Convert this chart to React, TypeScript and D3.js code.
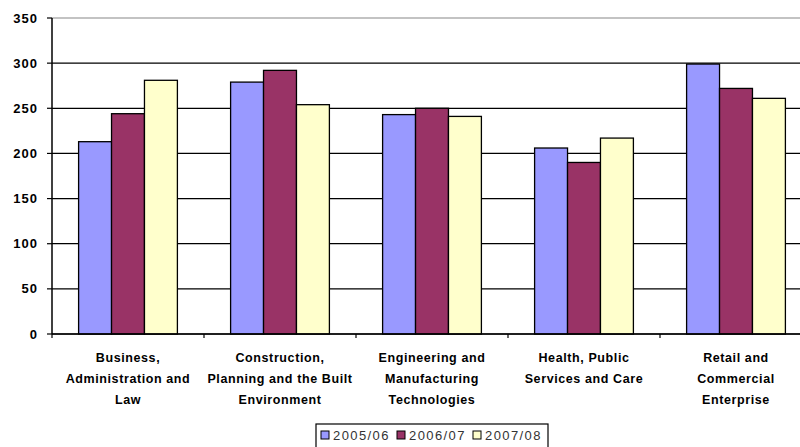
import React from "react";
import * as d3 from "d3";

const categories: string[][] = [
  ["Business,", "Administration and", "Law"],
  ["Construction,", "Planning and the Built", "Environment"],
  ["Engineering and", "Manufacturing", "Technologies"],
  ["Health, Public", "Services and Care"],
  ["Retail and", "Commercial", "Enterprise"],
];
const seriesNames = ["2005/06", "2006/07", "2007/08"];
const seriesColors = ["#9999FF", "#993366", "#FFFFCC"];
const values2005 = [213, 279, 243, 206, 299];
const values2006 = [244, 292, 250, 190, 272];
const values2007 = [281, 254, 241, 217, 261];
const yTicks = [0, 50, 100, 150, 200, 250, 300, 350];

const W = 800;
const H = 447;
const left = 52;
const right = 812;
const top = 18;
const bottom = 334;

export default function App() {
  const series = [values2005, values2006, values2007];
  const x = d3
    .scaleBand<number>()
    .domain(categories.map((_, i) => i))
    .range([left, right])
    .paddingInner(0)
    .paddingOuter(0);
  const y = d3.scaleLinear().domain([0, 350]).range([bottom, top]);
  const bw = x.bandwidth();
  const groupW = bw * 0.65;
  const inner = d3
    .scaleBand<number>()
    .domain([0, 1, 2])
    .range([0, groupW]);
  const font = "'Liberation Sans', Arial, sans-serif";

  const legendX = 316;
  const legendY = 424;
  const legendItemX = [321, 397, 473];

  return (
    <div style={{ position: "fixed", left: 0, top: 0 }}>
      <svg width={W} height={H} style={{ display: "block", background: "#fff" }}>
        {/* gridlines */}
        {yTicks.map((t) => (
          <line
            key={"g" + t}
            x1={left}
            x2={W}
            y1={y(t)}
            y2={y(t)}
            stroke={t === 350 ? "#888" : "#000"}
            strokeWidth={1.2}
          />
        ))}
        {/* bars */}
        {categories.map((_, ci) =>
          series.map((vals, si) => {
            const bx = (x(ci) as number) + (bw - groupW) / 2 + (inner(si) as number);
            return (
              <rect
                key={ci + "-" + si}
                x={bx}
                y={y(vals[ci])}
                width={inner.bandwidth()}
                height={bottom - y(vals[ci])}
                fill={seriesColors[si]}
                stroke="#000"
                strokeWidth={1.3}
              />
            );
          })
        )}
        {/* axes */}
        <line x1={left} x2={left} y1={top} y2={bottom} stroke="#000" strokeWidth={1.5} />
        <line x1={left} x2={W} y1={bottom} y2={bottom} stroke="#000" strokeWidth={1.5} />
        {yTicks.map((t) => (
          <g key={"yt" + t}>
            <line x1={left - 5} x2={left} y1={y(t)} y2={y(t)} stroke="#000" strokeWidth={1.2} />
            <text
              x={38}
              y={y(t)}
              dy="0.35em"
              textAnchor="end"
              fontFamily={font}
              fontWeight="bold"
              fontSize={13}
              letterSpacing={1}
              fill="#000"
            >
              {t}
            </text>
          </g>
        ))}
        {categories.map((_, ci) => (
          <line
            key={"xt" + ci}
            x1={x(ci) as number}
            x2={x(ci) as number}
            y1={bottom}
            y2={bottom + 4}
            stroke="#000"
            strokeWidth={1.2}
          />
        ))}
        {categories.map((lines, ci) => (
          <text
            key={"xl" + ci}
            x={(x(ci) as number) + bw / 2}
            y={358}
            textAnchor="middle"
            fontFamily={font}
            fontWeight="bold"
            fontSize={12.5}
            letterSpacing={0.6}
            fill="#000"
          >
            {lines.map((l, li) => (
              <tspan key={li} x={(x(ci) as number) + bw / 2} y={358 + li * 21} dy="0.35em">
                {l}
              </tspan>
            ))}
          </text>
        ))}
        {/* legend */}
        <rect
          x={legendX}
          y={legendY}
          width={232}
          height={30}
          fill="#fff"
          stroke="#000"
          strokeWidth={1.2}
        />
        {seriesNames.map((n, si) => (
          <g key={"lg" + si}>
            <rect
              x={legendItemX[si]}
              y={431}
              width={8}
              height={8}
              fill={seriesColors[si]}
              stroke="#000"
              strokeWidth={1}
            />
            <text
              x={legendItemX[si] + 12}
              y={435}
              dy="0.35em"
              fontFamily={font}
              fontSize={13}
              letterSpacing={1.4}
              fill="#333"
            >
              {n}
            </text>
          </g>
        ))}
      </svg>
    </div>
  );
}
